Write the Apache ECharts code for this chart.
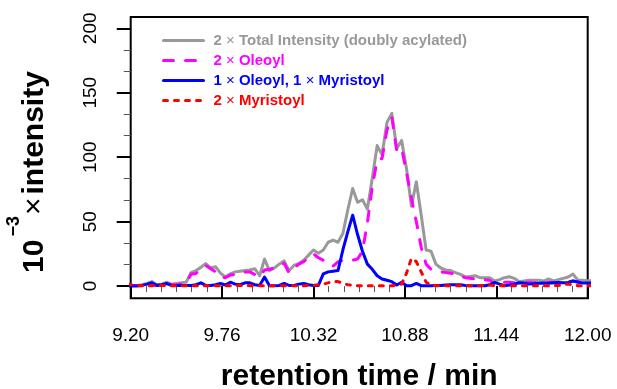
<!DOCTYPE html>
<html>
<head>
<meta charset="utf-8">
<script src="https://cdn.jsdelivr.net/npm/echarts@6/dist/echarts.min.js"></script>
<style>
  html, body { margin: 0; padding: 0; background: #ffffff; }
  #chart { width: 617px; height: 389px; }
</style>
</head>
<body>
<div id="chart"></div>
<script>
// Extracted-ion chromatogram, doubly acylated species (intensity in units of 10^3)
const retentionTime = [
  9.18, 9.21, 9.24, 9.27, 9.30, 9.33, 9.36, 9.39, 9.42, 9.45,
  9.48, 9.51, 9.54, 9.57, 9.60, 9.63, 9.66, 9.69, 9.72, 9.75,
  9.78, 9.81, 9.84, 9.87, 9.90, 9.93, 9.96, 9.99, 10.02, 10.05,
  10.08, 10.11, 10.14, 10.17, 10.20, 10.23, 10.26, 10.29, 10.32, 10.35,
  10.38, 10.41, 10.44, 10.47, 10.50, 10.53, 10.56, 10.59, 10.62, 10.65,
  10.68, 10.71, 10.74, 10.77, 10.80, 10.83, 10.86, 10.89, 10.92, 10.95,
  10.98, 11.01, 11.04, 11.07, 11.10, 11.13, 11.16, 11.19, 11.22, 11.25,
  11.28, 11.31, 11.34, 11.37, 11.40, 11.43, 11.46, 11.49, 11.52, 11.55,
  11.58, 11.61, 11.64, 11.67, 11.70, 11.73, 11.76, 11.79, 11.82, 11.85,
  11.88, 11.91, 11.94, 11.97, 12.00, 12.03
];

const totalIntensity = [
  0.5, 0.5, 0.5, 1, 2, 3.5, 1, 1.5, 3, 1.5,
  2, 2.5, 3, 10.5, 12, 14.5, 17.5, 14, 15, 10,
  7, 9.5, 11, 11.5, 12, 12.5, 13.5, 8, 21, 12,
  14, 17, 19.6, 12, 16, 17.5, 20, 24, 28, 25.5,
  28, 34, 35.6, 34, 40.8, 59, 75.7, 65, 67, 59.7,
  83.5, 109, 102, 127, 134, 106.7, 113, 91, 62, 81,
  55, 28, 27, 17, 14, 12.5, 12, 10.5, 9, 7.2,
  7.5, 8, 6.5, 6.4, 6.4, 3.9, 5, 6.5, 7.2, 6,
  3.4, 4, 4.6, 4.6, 4.6, 3.9, 5.5, 4, 5, 6,
  7, 9.3, 4.6, 4.6, 4.2, 4
];

const dioleoyl = [
  0.5, 0.5, 0.5, 0.5, 1, 1, 0.5, 1.5, 2, 1,
  1, 1.5, 2, 9.3, 9.8, 13, 16, 13.5, 11, 7,
  6.5, 8.5, 9, 10, 11, 11, 9, 7.2, 12.4, 13,
  14, 16, 17.6, 10.3, 14, 17, 19, 22, 25, 22,
  20, 18, 15.5, 18.8, 20, 20, 20, 21, 27, 49,
  77, 97.7, 99, 121, 131, 105, 107, 88, 68, 50,
  30, 17, 13, 12, 11, 10.5, 10, 9, 8, 6.5,
  6, 5.5, 5, 5, 4.5, 1, 3.5, 3, 3, 2.5,
  1.5, 2.5, 3, 2.5, 2.5, 2.5, 3, 2.5, 2.5, 3,
  3, 4, 3, 2, 2, 2
];

const oleoylMyristoyl = [
  0, 0, 0, 0.5, 1.5, 2.6, 0.5, 1, 2, 0.5,
  0.5, 0.5, 0.5, 0.5, 1, 2.5, 0.5, 0.5, 1, 2,
  0.8, 3, 1.5, 1, 2.5, 2.5, 1, 0.5, 7, 0.3,
  0.3, 0.5, 2, 0.5, 0.5, 1.5, 2, 1, 0.5, 0.5,
  9.5, 11, 11.5, 12, 28, 42, 55, 40, 27, 17,
  13, 8, 5.5, 4.5, 3.4, 0.8, 3, 0.3, 0.3, 2,
  0.3, 0.3, 0.3, 0.5, 0.5, 0.8, 1, 1, 1, 0.5,
  0.3, 0.3, 0.3, 0.3, 1, 2.8, 1.5, 0.3, 0.8, 1.5,
  2.6, 2.3, 1.5, 1.8, 2.2, 2.3, 2.2, 2.5, 2.8, 2.6,
  2.8, 3.9, 3.2, 2.3, 2.3, 2.3
];

const dimyristoyl = [
  1.5, 1, 0.5, 0.3, 0.3, 0.3, 0.5, 0.5, 0.3, 0.3,
  0.3, 0.3, 0.3, 0.3, 0.3, 0.3, 0.3, 0.3, 0.3, 0.3,
  0.3, 0.3, 0.3, 0.5, 0.5, 0.3, 0.3, 0.3, 0.3, 0.3,
  0.3, 0.3, 0.3, 0.3, 0.3, 0.3, 0.3, 0.5, 0.5, 1,
  1.5, 2.5, 3.5, 3.5, 2, 1, 0.5, 0.3, 0.3, 0.3,
  0.3, 0.3, 0.3, 0.3, 0.3, 0.5, 1.5, 10, 21.5, 19,
  11, 3, 0.8, 0.3, 0.3, 0.3, 0.3, 0.3, 0.3, 0.3,
  0.3, 0.3, 0.3, 0.5, 0.8, 0.3, 0.3, 0.3, 0.3, 0.3,
  0.3, 0.3, 0.3, 0.3, 0.3, 0.3, 0.3, 0.3, 0.5, 1,
  1.5, 0.8, 0.3, 0.3, 0.3, 0.3
];

const seriesNames = [
  '2 × Total Intensity (doubly acylated)',
  '2 × Oleoyl',
  '1 × Oleoyl, 1 × Myristoyl',
  '2 × Myristoyl'
];

const xTickLabels = [9.20, 9.76, 10.32, 10.88, 11.44, 12.00];
const yTickLabels = [0, 50, 100, 150, 200];

const FONT = '"Liberation Sans", Arial, Helvetica, sans-serif';
const COLORS = ['#999999', '#ff00ff', '#0000ff', '#ff0000'];

// minor ticks: 6 steps between x majors, 3 steps between y majors
function subdivide(majors, parts) {
  const out = [];
  for (let i = 0; i < majors.length - 1; i++) {
    const step = (majors[i + 1] - majors[i]) / parts;
    for (let j = 1; j < parts; j++) out.push(+(majors[i] + step * j).toFixed(4));
  }
  return out;
}
const xMinor = subdivide(xTickLabels, 6);
const yMinor = subdivide(yTickLabels, 3);

const X_MIN = 9.2, X_MAX = 12.0;
const Y_MIN = -9.5, Y_MAX = 208.8;

const toPairs = values => retentionTime.map((t, i) => [t, values[i]]);

const lineStyles = [
  { color: COLORS[0], width: 3, join: 'round', cap: 'round' },
  { color: COLORS[1], width: 3, type: [10, 12], cap: 'round', join: 'round' },
  { color: COLORS[2], width: 3, join: 'round', cap: 'round' },
  { color: COLORS[3], width: 3, type: [4, 7], cap: 'round', join: 'round' }
];
const seriesValues = [totalIntensity, dioleoyl, oleoylMyristoyl, dimyristoyl];

const chart = echarts.init(document.getElementById('chart'), null, { renderer: 'canvas' });

chart.setOption({
  animation: false,
  backgroundColor: '#ffffff',
  grid: {
    left: 130.7, right: 29.3, top: 17, bottom: 90.7,
    show: true, borderColor: '#000000', borderWidth: 2,
    backgroundColor: 'transparent',
    containLabel: false,
    outerBoundsMode: 'none'
  },
  legend: {
    orient: 'vertical',
    left: 162, top: 33,
    padding: 0,
    itemWidth: 40, itemHeight: 14, itemGap: 5,
    selectedMode: false,
    // line-only keys: hide the marker that line series put in the middle of the key
    itemStyle: { opacity: 0, borderWidth: 0 },
    lineStyle: { width: 3 },
    textStyle: {
      fontFamily: FONT, fontSize: 15, fontWeight: 'bold',
      padding: [0, 0, 0, 5],
      rich: { m: { fontFamily: FONT, fontSize: 15, fontWeight: 'normal' } }
    },
    formatter: name => name.replace(/×/g, '{m|×}'),
    data: seriesNames.map((n, i) => ({ name: n, textStyle: { color: COLORS[i] } }))
  },
  xAxis: [
    {
      type: 'value', min: X_MIN, max: X_MAX, position: 'bottom',
      axisLine: { show: false },
      splitLine: { show: false },
      axisTick: { show: true, customValues: xTickLabels, length: 13, lineStyle: { color: '#000', width: 2 } },
      axisLabel: {
        customValues: xTickLabels, formatter: v => v.toFixed(2),
        fontFamily: FONT, fontSize: 19, color: '#000', margin: 28
      },
      name: 'retention time / min', nameLocation: 'middle', nameGap: 63,
      nameTextStyle: { fontFamily: FONT, fontSize: 30, fontWeight: 'bold', color: '#000' }
    },
    {
      type: 'value', min: X_MIN, max: X_MAX, position: 'bottom',
      axisLine: { show: false },
      splitLine: { show: false },
      axisLabel: { show: false },
      axisTick: { show: true, customValues: xMinor, length: 6, lineStyle: { color: '#555', width: 1 } }
    }
  ],
  yAxis: [
    {
      type: 'value', min: Y_MIN, max: Y_MAX, position: 'left',
      axisLine: { show: false },
      splitLine: { show: false },
      axisTick: { show: true, customValues: yTickLabels, length: 14, lineStyle: { color: '#000', width: 2 } },
      axisLabel: {
        customValues: yTickLabels, rotate: 90,
        fontFamily: FONT, fontSize: 19, color: '#000', margin: 30
      }
    },
    {
      type: 'value', min: Y_MIN, max: Y_MAX, position: 'left',
      axisLine: { show: false },
      splitLine: { show: false },
      axisLabel: { show: false },
      axisTick: { show: true, customValues: yMinor, length: 7, lineStyle: { color: '#555', width: 1 } }
    }
  ],
  graphic: [
    {
      type: 'text',
      x: 34.6, y: 172,
      rotation: Math.PI / 2,
      style: {
        text: '{n|10}{s|−3}{x|×}{n|intensity}',
        fill: '#000',
        align: 'center',
        verticalAlign: 'middle',
        rich: {
          n: { fontFamily: FONT, fontSize: 30, fontWeight: 'bold', lineHeight: 60, verticalAlign: 'middle', fill: '#000' },
          s: { fontFamily: FONT, fontSize: 18, fontWeight: 'bold', lineHeight: 18, verticalAlign: 'top', padding: [0, 1, 0, 3], fill: '#000' },
          x: { fontFamily: FONT, fontSize: 30, fontWeight: 'normal', lineHeight: 60, verticalAlign: 'middle', padding: [0, 3, 0, 0], fill: '#000' }
        }
      }
    }
  ],
  series: seriesNames.map((name, i) => ({
    name: name,
    type: 'line',
    xAxisIndex: 0,
    yAxisIndex: 0,
    data: toPairs(seriesValues[i]),
    symbol: 'none',
    showSymbol: false,
    smooth: false,
    color: COLORS[i],
    lineStyle: lineStyles[i],
    clip: true,
    z: 2 + i
  }))
});
</script>
</body>
</html>
